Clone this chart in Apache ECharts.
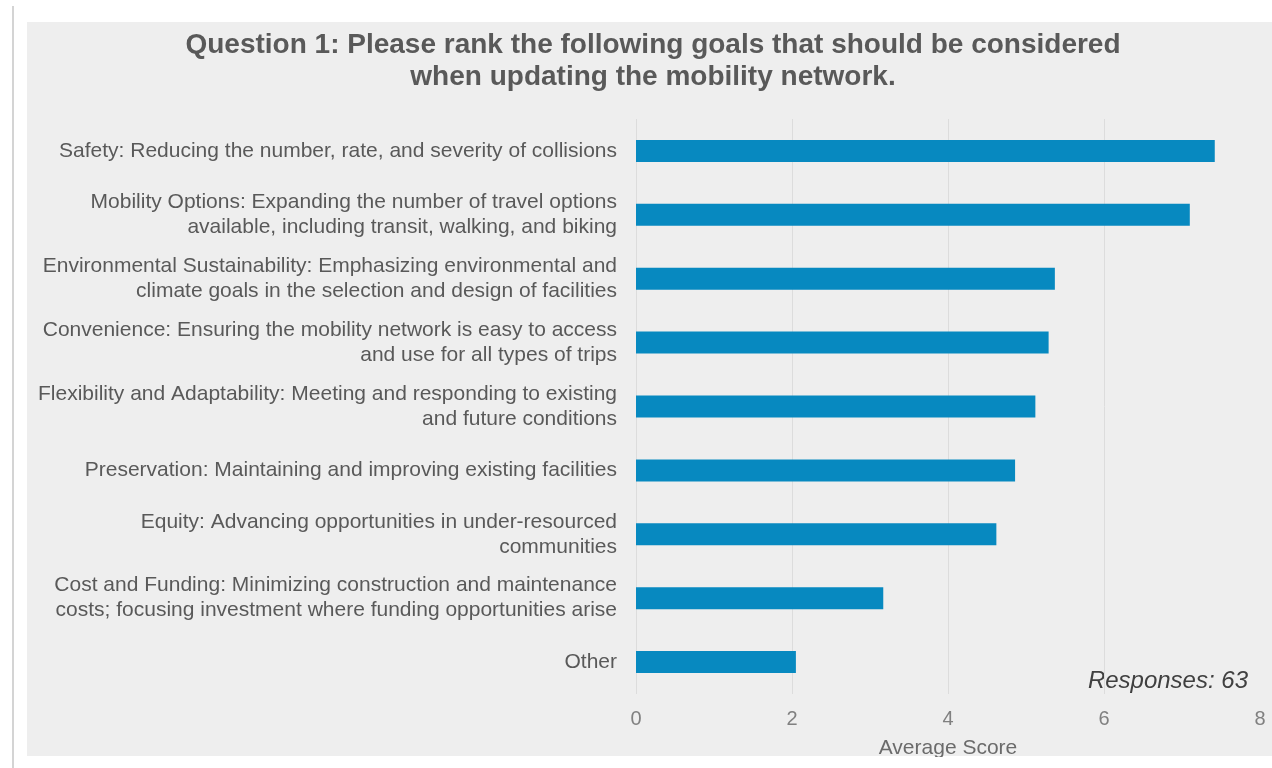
<!DOCTYPE html>
<html>
<head>
<meta charset="utf-8">
<script src="https://cdn.jsdelivr.net/npm/echarts@6/dist/echarts.min.js"></script>
<style>
html,body{margin:0;padding:0;background:#fff;}
#wrap{position:relative;width:1272px;height:768px;overflow:hidden;background:#fff;}
#leftline{position:absolute;left:12px;top:6px;width:2px;height:762px;background:#d4d4d4;}
#panel{position:absolute;left:27px;top:22px;width:1245px;height:734px;background:#eeeeee;}
#chart{position:absolute;left:0;top:0;width:1272px;height:768px;}
#mask{position:absolute;left:14px;top:757px;width:1258px;height:11px;background:#fff;}
</style>
</head>
<body>
<div id="wrap">
<div id="leftline"></div>
<div id="panel"></div>
<div id="chart"></div>
<div id="mask"></div>
</div>
<script>
const titleText = 'Question 1: Please rank the following goals that should be considered\nwhen updating the mobility network.';
const categories = [
  'Safety: Reducing the number, rate, and severity of collisions',
  'Mobility Options: Expanding the number of travel options\navailable, including transit, walking, and biking',
  'Environmental Sustainability: Emphasizing environmental and\nclimate goals in the selection and design of facilities',
  'Convenience: Ensuring the mobility network is easy to access\nand use for all types of trips',
  'Flexibility and Adaptability: Meeting and responding to existing\nand future conditions',
  'Preservation: Maintaining and improving existing facilities',
  'Equity: Advancing opportunities in under-resourced\ncommunities',
  'Cost and Funding: Minimizing construction and maintenance\ncosts; focusing investment where funding opportunities arise',
  'Other'
];
const scores = [7.42, 7.10, 5.37, 5.29, 5.12, 4.86, 4.62, 3.17, 2.05];
const xTicks = [0, 2, 4, 6, 8];
const axisTitle = 'Average Score';
const noteText = 'Responses: 63';

const chart = echarts.init(document.getElementById('chart'), null, {renderer: 'canvas'});
const FONT = 'Liberation Sans, Arial, sans-serif';
chart.setOption({
  backgroundColor: 'transparent',
  animation: false,
  title: {
    text: titleText,
    left: 648,
    textAlign: 'center',
    top: 24,
    textStyle: {fontFamily: FONT, fontSize: 28, fontWeight: 'bold', color: '#595959', lineHeight: 32}
  },
  grid: {left: 636, right: 12, top: 119, bottom: 74, containLabel: false},
  xAxis: {
    type: 'value',
    min: xTicks[0],
    max: xTicks[xTicks.length - 1],
    interval: 2,
    axisLine: {show: false},
    axisTick: {show: false},
    axisLabel: {fontFamily: FONT, fontSize: 20, color: '#808080', margin: 15},
    splitLine: {show: true, showMaxLine: false, lineStyle: {color: '#dcdcdc', width: 1}},
    name: axisTitle,
    nameLocation: 'middle',
    nameGap: 44,
    nameTextStyle: {fontFamily: FONT, fontSize: 21, color: '#6b6b6b'}
  },
  yAxis: {
    type: 'category',
    inverse: true,
    data: categories,
    axisLine: {show: false},
    axisTick: {show: false},
    axisLabel: {fontFamily: FONT, fontSize: 21, color: '#595959', margin: 19, lineHeight: 25, align: 'right'}
  },
  graphic: [{
    type: 'text',
    right: 24,
    top: 669,
    style: {text: noteText, fontFamily: FONT, fontSize: 24, fontStyle: 'italic', fill: '#404040'}
  }],
  series: [{
    type: 'bar',
    data: scores,
    barWidth: 22,
    itemStyle: {color: '#0789c0'}
  }]
});
</script>
</body>
</html>
